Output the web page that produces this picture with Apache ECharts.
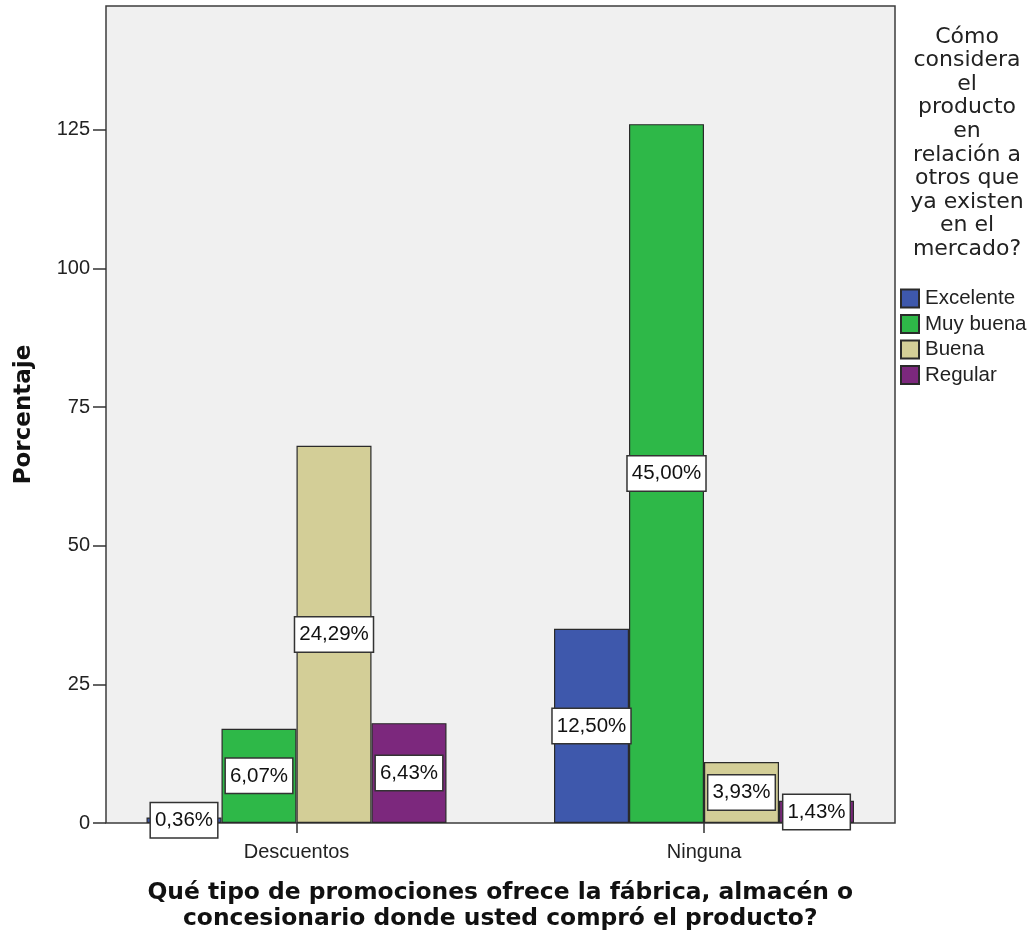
<!DOCTYPE html>
<html>
<head>
<meta charset="utf-8">
<script src="https://cdn.jsdelivr.net/npm/echarts@6/dist/echarts.min.js"></script>
<style>
  html, body { margin: 0; padding: 0; background: #ffffff; }
  #chart { width: 1034px; height: 942px; }
</style>
</head>
<body>
<div id="chart"></div>
<script>
// Counts per promotion type, split by how the product is rated
const categories = ['Descuentos', 'Ninguna'];
const seriesNames = ['Excelente', 'Muy buena', 'Buena', 'Regular'];
const excelente = [1, 35];
const muyBuena = [17, 126];
const buena = [68, 11];
const regular = [18, 4];
const yTicks = [0, 25, 50, 75, 100, 125];
const yMax = 147.3;

const seriesValues = [excelente, muyBuena, buena, regular];
const colors = ['#3e58ac', '#2eb848', '#d3ce97', '#7c287d'];
const total = seriesValues.flat().reduce((a, b) => a + b, 0);

const FONT = '"Liberation Sans", Arial, sans-serif';
const WIDE = '"DejaVu Sans", Verdana, sans-serif';

function pctLabel(v) {
  return (v / total * 100).toFixed(2).replace('.', ',') + '%';
}

const chart = echarts.init(document.getElementById('chart'), null, { renderer: 'canvas' });

// plot frame drawn independently from the category bands
const frame = { x: 106, y: 6, w: 789, h: 817 };

chart.setOption({
  animation: false,
  textStyle: { fontFamily: FONT },
  grid: {
    left: 92.75, right: 126.25, top: 6, bottom: 119,
    containLabel: false, outerBoundsMode: 'none'
  },
  graphic: [
    {
      type: 'rect', z: -10, silent: true,
      shape: { x: frame.x, y: frame.y, width: frame.w, height: frame.h },
      style: { fill: '#f0f0f0', stroke: '#3c3c3c', lineWidth: 1.5 }
    },
    {
      type: 'text', x: 967, y: 25, silent: true,
      style: {
        text: 'Cómo\nconsidera\nel\nproducto\nen\nrelación a\notros que\nya existen\nen el\nmercado?',
        align: 'center', verticalAlign: 'top',
        font: '22px ' + WIDE, fill: '#222', lineHeight: 23.6
      }
    }
  ],
  legend: {
    orient: 'vertical', left: 900, top: 288, padding: 0,
    itemWidth: 18, itemHeight: 18, itemGap: 4.5,
    icon: 'rect',
    textStyle: { fontSize: 20.5, color: '#222', fontFamily: FONT, padding: [0, 0, 0, 1] },
    data: seriesNames
  },
  xAxis: {
    type: 'category',
    data: categories,
    axisLine: { show: false },
    axisTick: { show: true, alignWithLabel: true, length: 10, lineStyle: { color: '#333', width: 1.5 } },
    axisLabel: { fontSize: 20, color: '#222', margin: 19, fontFamily: FONT },
    name: 'Qué tipo de promociones ofrece la fábrica, almacén o\nconcesionario donde usted compró el producto?',
    nameLocation: 'middle',
    nameGap: 57,
    nameTextStyle: { fontSize: 23.4, fontWeight: 'bold', color: '#111', lineHeight: 26, fontFamily: WIDE }
  },
  yAxis: {
    type: 'value',
    min: 0, max: yMax, interval: 25,
    offset: -13.25,
    splitLine: { show: false },
    axisLine: { show: false },
    axisTick: { show: true, length: 13, customValues: yTicks, lineStyle: { color: '#333', width: 1.5 } },
    axisLabel: { fontSize: 20, color: '#222', margin: 16, customValues: yTicks, fontFamily: FONT },
    name: 'Porcentaje',
    nameLocation: 'middle',
    nameGap: 70,
    nameRotate: 90,
    nameTextStyle: { fontSize: 23, fontWeight: 'bold', color: '#111', fontFamily: WIDE }
  },
  series: seriesNames.map((name, i) => ({
    name: name,
    type: 'bar',
    data: seriesValues[i],
    barWidth: 75,
    barGap: '0%',
    itemStyle: { color: colors[i], borderColor: '#2a2a2a', borderWidth: 1.2 },
    label: {
      show: true,
      position: 'inside',
      formatter: p => pctLabel(p.value),
      fontSize: 20.5, color: '#111', fontFamily: FONT,
      backgroundColor: '#ffffff',
      borderColor: '#333', borderWidth: 1.5,
      padding: [7, 4, 6, 4]
    }
  }))
});
</script>
</body>
</html>
